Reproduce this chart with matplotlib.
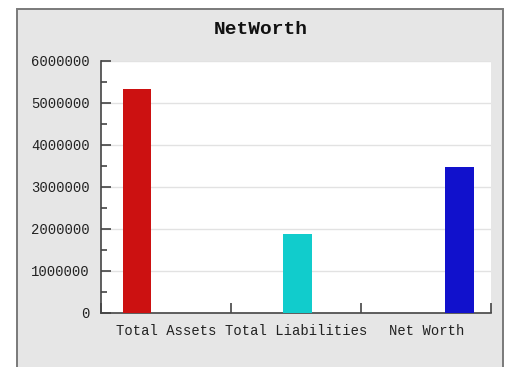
import numpy as np
import matplotlib.pyplot as plt
from matplotlib.patches import Rectangle
from matplotlib.ticker import MultipleLocator

# Dados do gráfico
categories = ['Total Assets', 'Total Liabilities', 'Net Worth']
series_names = ['Total Assets', 'Total Liabilities', 'Net Worth']
series_values = [
    [5340000, 0, 0],
    [0, 1880000, 0],
    [0, 0, 3460000],
]
bar_colors = ['#cc1111', '#11cccc', '#1111cc']

W, H = 510, 367
fig = plt.figure(figsize=(W / 100, H / 100), dpi=100)
fig.patch.set_facecolor('white')

# Moldura cinza em volta do gráfico
frame = Rectangle((17 / W, -0.1), (503 - 17) / W, (H - 9) / H + 0.1,
                  transform=fig.transFigure, facecolor='#e6e6e6',
                  edgecolor='#7a7a7a', linewidth=1.4, zorder=-10)
fig.patches.append(frame)

ax = fig.add_axes([101 / W, (H - 312.5) / H, (491.5 - 101) / W, (312.5 - 61) / H])
ax.set_facecolor('white')

mono = 'Liberation Mono'
x = np.arange(len(categories))
offsets = [-0.223, 0.01, 0.253]
for i, vals in enumerate(series_values):
    ax.bar(x + offsets[i], vals, width=0.22, color=bar_colors[i],
           label=series_names[i], zorder=3)

ax.set_xlim(-0.5, len(categories) - 0.5)
ax.set_ylim(0, 6000000)

ax.yaxis.set_major_locator(MultipleLocator(1000000))
ax.yaxis.set_minor_locator(MultipleLocator(500000))
ax.yaxis.grid(True, which='major', color='#e2e2e2', linewidth=1, zorder=0)

# ticks do eixo x nos limites das categorias, rótulos no centro
ax.set_xticks(np.arange(len(categories) + 1) - 0.5)
ax.set_xticklabels([])
ax.set_xticks(x, minor=True)
ax.set_xticklabels(categories, minor=True, fontfamily=mono, fontsize=10, color='#222222')
ax.tick_params(axis='x', which='major', direction='in', length=7, width=1.2, color='#444444')
ax.tick_params(axis='x', which='minor', length=0, pad=8)

ax.set_yticks(np.arange(0, 6000001, 1000000))
ax.set_yticklabels([str(v) for v in range(0, 6000001, 1000000)], fontfamily=mono, fontsize=10, color='#222222')
ax.tick_params(axis='y', which='major', direction='in', length=7, width=1.2, color='#444444', pad=8)
ax.tick_params(axis='y', which='minor', direction='in', length=4, width=1.2, color='#444444')

for s in ['top', 'right']:
    ax.spines[s].set_visible(False)
for s in ['left', 'bottom']:
    ax.spines[s].set_color('#444444')
    ax.spines[s].set_linewidth(1.2)

fig.text(261 / W, 1 - 29 / H, 'NetWorth', ha='center', va='center',
         fontfamily=mono, fontsize=14, fontweight='bold', color='#111111')

fig.savefig('out.png', dpi=100)
